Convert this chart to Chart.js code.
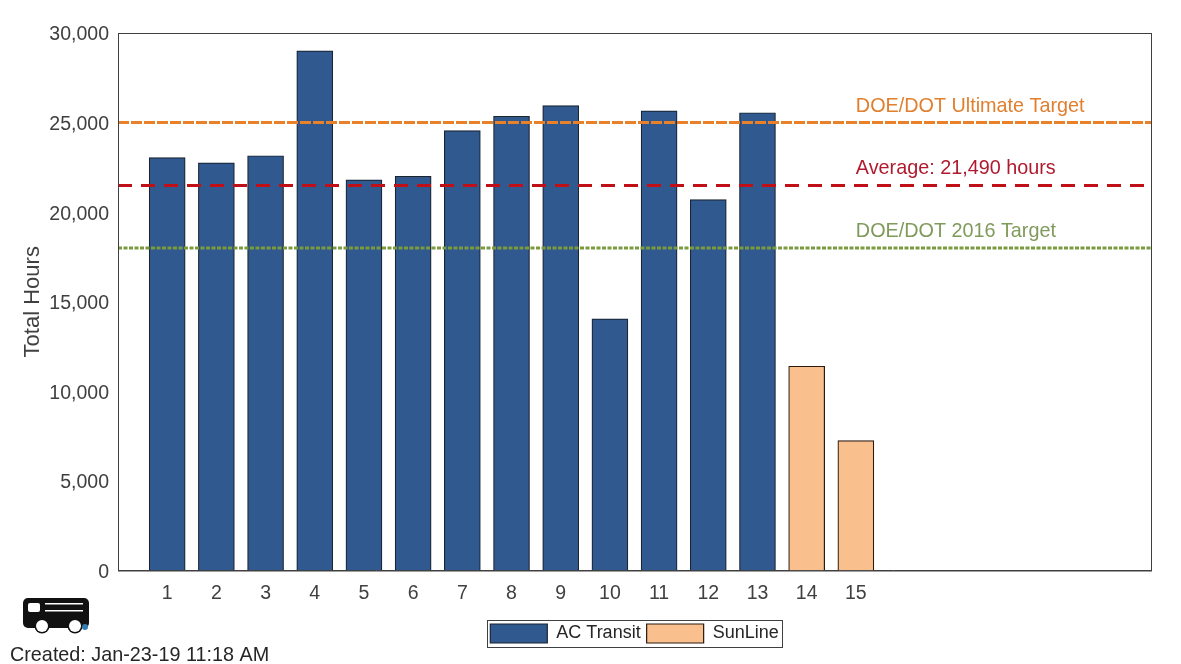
<!DOCTYPE html>
<html><head><meta charset="utf-8">
<style>html,body{margin:0;padding:0;background:#fff;overflow:hidden}#w{position:relative;width:1181px;height:664px}canvas{display:block}</style>
<script src="https://cdn.jsdelivr.net/npm/chart.js@4"></script></head>
<body><div id="w"><canvas id="c" width="1181" height="664"></canvas></div>
<script>
const vehicles = [1,2,3,4,5,6,7,8,9,10,11,12,13,14,15];
const acTransitVehicles = [1,2,3,4,5,6,7,8,9,10,11,12,13];
const acTransitHours = [23050,22750,23150,29000,21800,22000,24550,25350,25950,14050,25650,20700,25550];
const sunLineVehicles = [14,15];
const sunLineHours = [11400,7250];
const xLimits = [0,21];
const ultimateTarget = [25000,25000];
const averageHours = [21490,21490];
const target2016 = [18000,18000];
const yTicks = [0,5000,10000,15000,20000,25000,30000];
const annotations = [
  {text:'DOE/DOT Ultimate Target', value:25000, color:'#E07F2E'},
  {text:'Average: 21,490 hours', value:21490, color:'#B01A2E'},
  {text:'DOE/DOT 2016 Target', value:18000, color:'#7F9A5A'}
];
const pts = (xs,ys)=>xs.map((x,i)=>({x,y:ys[i]}));
const FONT = '"Liberation Sans", Arial, sans-serif';
const textColor = '#404040';

const extras = {
  id:'extras',
  afterDatasetsDraw(chart){
    const {ctx,chartArea:a,scales:{x,y}} = chart;
    ctx.save();
    ctx.strokeStyle='#404040';ctx.lineWidth=1;
    ctx.strokeRect(a.left+.5,a.top+.5,a.right-a.left,a.bottom-a.top);
    ctx.font='19.8px '+FONT;ctx.textBaseline='alphabetic';ctx.textAlign='left';
    annotations.forEach(n=>{ctx.fillStyle=n.color;ctx.fillText(n.text,x.getPixelForValue(15),y.getPixelForValue(n.value)-11);});
    ctx.restore();
  },
  afterDraw(chart){
    const {ctx}=chart;
    ctx.save();
    ctx.strokeStyle='#404040';ctx.lineWidth=1;
    ctx.strokeRect(487.5,620.5,295,27);
    ctx.fillStyle='#262626';ctx.font='19.8px '+FONT;ctx.textAlign='left';
    ctx.fillText('Created: Jan-23-19 11:18 AM',10,656);
    // bus icon
    ctx.fillStyle='#111';
    ctx.beginPath();ctx.roundRect(23,598,66,30,5);ctx.fill();
    ctx.fillStyle='#fff';
    ctx.beginPath();ctx.roundRect(28,603,12,9,2);ctx.fill();
    ctx.fillRect(45,603,38,1.5);ctx.fillRect(45,610,38,1.5);
    [42,75].forEach(cx=>{
      ctx.beginPath();ctx.arc(cx,626,7.5,0,Math.PI*2);ctx.fillStyle='#111';ctx.fill();
      ctx.beginPath();ctx.arc(cx,626,6,0,Math.PI*2);ctx.fillStyle='#fff';ctx.fill();
    });
    ctx.fillStyle='#2F7FB0';ctx.beginPath();ctx.arc(85,627,3,0,Math.PI*2);ctx.fill();
    ctx.restore();
  }
};

new Chart(document.getElementById('c'),{
  data:{datasets:[
    {type:'line',label:'Ultimate',data:pts(xLimits,ultimateTarget),borderColor:'#E9812B',borderWidth:3,borderDash:[11,2],pointRadius:0,order:1},
    {type:'line',label:'Average',data:pts(xLimits,averageHours),borderColor:'#C00F17',borderWidth:3,borderDash:[14,9],pointRadius:0,order:1},
    {type:'line',label:'2016',data:pts(xLimits,target2016),borderColor:'#7A9A3E',borderWidth:3,borderDash:[4,1.5],pointRadius:0,order:1},
    {type:'bar',label:'AC Transit',data:pts(acTransitVehicles,acTransitHours),backgroundColor:'#30598F',borderColor:'#1a2433',borderWidth:1.2,barThickness:36,grouped:false,order:2},
    {type:'bar',label:'SunLine',data:pts(sunLineVehicles,sunLineHours),backgroundColor:'#F9BF8D',borderColor:'#2a1a10',borderWidth:1.2,barThickness:36,grouped:false,order:2}
  ]},
  options:{
    responsive:false,animation:false,
    layout:{padding:{left:0,right:30,top:33,bottom:11}},
    plugins:{
      tooltip:{enabled:false},
      legend:{display:true,position:'bottom',fullSize:false,
        labels:{boxWidth:57,boxHeight:19,padding:6,color:'#262626',font:{family:FONT,size:18},
          filter:i=>i.text==='AC Transit'||i.text==='SunLine'}}
    },
    scales:{
      x:{type:'linear',offset:false,min:xLimits[0],max:xLimits[1],grid:{display:false},border:{color:'#404040'},
        afterBuildTicks:s=>{s.ticks=vehicles.map(v=>({value:v}));},
        afterFit:s=>{s.height=47.5;},
        ticks:{autoSkip:false,maxRotation:0,color:textColor,padding:3,font:{family:FONT,size:19.5},callback:v=>String(v)}},
      y:{min:0,max:30000,grid:{display:false},border:{color:'#404040'},
        afterBuildTicks:s=>{s.ticks=yTicks.map(v=>({value:v}));},
        afterFit:s=>{s.width=118;},
        title:{display:true,text:'Total Hours',color:textColor,font:{family:FONT,size:22},padding:{top:20,bottom:0}},
        ticks:{color:textColor,padding:1,labelOffset:2,font:{family:FONT,size:19.5},callback:v=>v.toLocaleString('en-US')}}
    }
  },
  plugins:[extras]
});
</script></body></html>
